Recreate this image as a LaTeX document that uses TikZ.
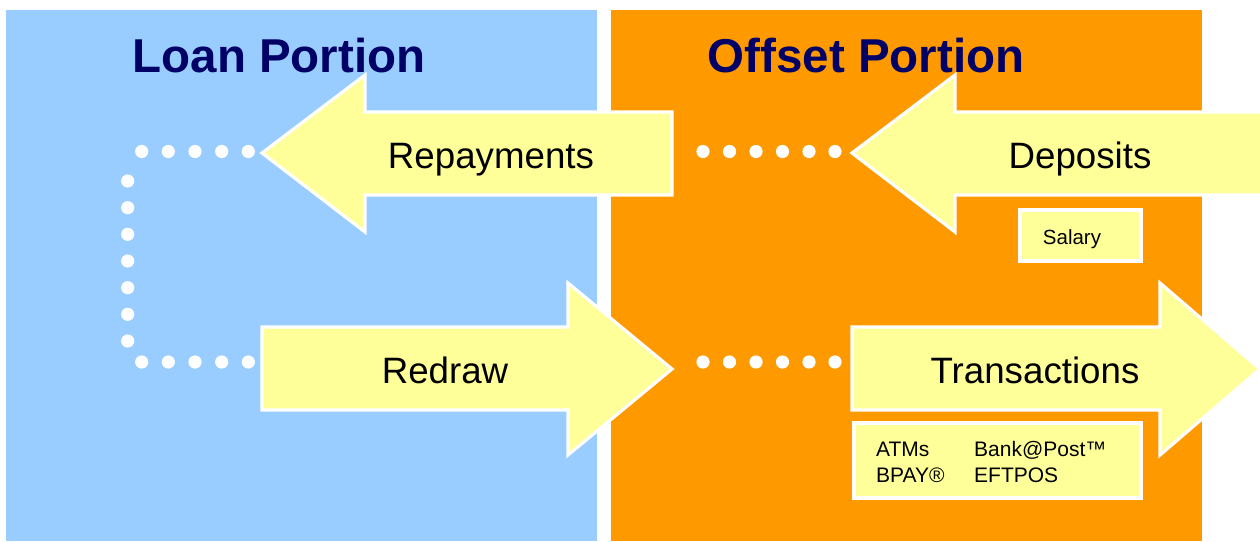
\documentclass[tikz,border=0pt]{standalone}
\usepackage{fontspec}
\setmainfont{Liberation Sans}
\definecolor{loanblue}{HTML}{99CCFF}
\definecolor{offorange}{HTML}{FF9900}
\definecolor{arrowyellow}{HTML}{FFFF99}
\definecolor{titlenavy}{HTML}{000066}
\begin{document}
\begin{tikzpicture}[x=1pt,y=-1pt,
  bigarrow/.style={fill=arrowyellow,draw=white,line width=3.2pt,line join=miter},
  subbox/.style={fill=arrowyellow,draw=white,line width=4.5pt},
  titletext/.style={text=titlenavy,font=\fontsize{47.5}{56}\selectfont\bfseries,inner sep=0pt,anchor=base},
  arrowtext/.style={font=\fontsize{36.7}{44}\selectfont,inner sep=0pt,anchor=base},
  smalltext/.style={font=\fontsize{21}{25}\selectfont,inner sep=0pt,anchor=base west},
  dot/.style={fill=white}]
\useasboundingbox (0,0) rectangle (1260,541);
\fill[white] (0,0) rectangle (1260,541);
% panels
\fill[loanblue] (6,10) rectangle (597,541);
\fill[offorange] (611,10) rectangle (1202,541);
% titles
\node[titletext] (loant) at (279,72) {Loan Portion};
\node[titletext] (offt) at (866,72) {Offset Portion};
% arrows
\draw[bigarrow] (672,112) -- (365,112) -- (365,75) -- (262,153) -- (365,232) -- (365,195) -- (672,195) -- cycle;
\draw[bigarrow] (1265,112) -- (955,112) -- (955,75) -- (852,153) -- (955,232) -- (955,195) -- (1265,195) -- cycle;
\draw[bigarrow] (262,327) -- (568,327) -- (568,283) -- (672,369) -- (568,455) -- (568,410) -- (262,410) -- cycle;
\draw[bigarrow] (852,327) -- (1160,327) -- (1160,283) -- (1260,369) -- (1160,455) -- (1160,410) -- (852,410) -- cycle;
\node[arrowtext] (rep) at (491,168) {Repayments};
\node[arrowtext] (dep) at (1080,168) {Deposits};
\node[arrowtext] (red) at (445,383) {Redraw};
\node[arrowtext] (tra) at (1035,383) {Transactions};
% sub boxes
\draw[subbox] (1020,210) rectangle (1141,261);
\node[font=\fontsize{20.5}{24}\selectfont,inner sep=0pt,anchor=base] (sal) at (1072,244) {Salary};
\draw[subbox] (854,423) rectangle (1141,498);
\node[smalltext] (atm) at (876,456) {ATMs};
\node[smalltext] (bank) at (974,456) {Bank@Post™};
\node[smalltext] (bpay) at (876,482) {BPAY®};
\node[smalltext] (eft) at (974,482) {EFTPOS};
% dotted loop (loan side)
\foreach \x in {141.7,168.3,195,221.7,248.3} {
  \fill[dot] (\x,151.5) circle (6.6);
  \fill[dot] (\x,362) circle (6.6);
}
\foreach \y in {181,207.7,234.3,261,287.7,314.3,341} {
  \fill[dot] (127.7,\y) circle (6.6);
}
% dotted links (offset side)
\foreach \x in {703,729.5,756,782.5,809,835} {
  \fill[dot] (\x,151.5) circle (6.6);
  \fill[dot] (\x,362) circle (6.6);
}
\end{tikzpicture}
\end{document}
